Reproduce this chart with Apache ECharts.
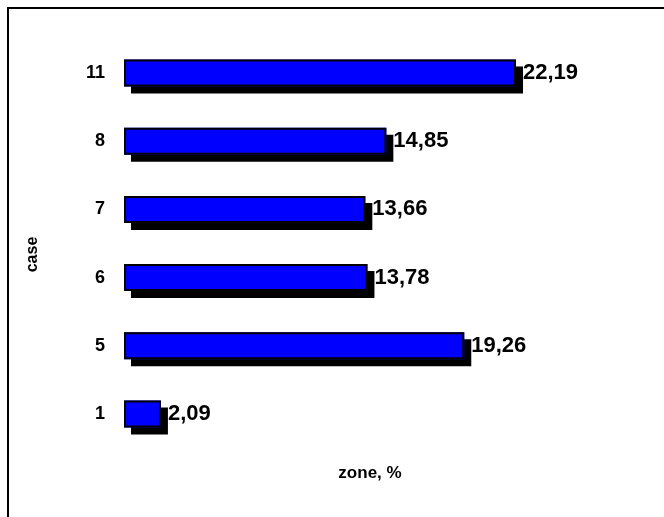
<!DOCTYPE html>
<html>
<head>
<meta charset="utf-8">
<script src="https://cdn.jsdelivr.net/npm/echarts@6/dist/echarts.min.js"></script>
<style>
  html, body { margin: 0; padding: 0; background: #fff; }
  #chart { width: 664px; height: 517px; }
</style>
</head>
<body>
<div id="chart"></div>
<script>
// Cases, bottom to top, and their zone share in percent
const cases = ['1', '5', '6', '7', '8', '11'];
const zoneValues = [2.09, 19.26, 13.78, 13.66, 14.85, 22.19];
const xAxisTitle = 'zone, %';
const yAxisTitle = 'case';

const fmt = v => v.toFixed(2).replace('.', ',');
const font = 'Liberation Sans, Arial, sans-serif';

const chart = echarts.init(document.getElementById('chart'), null, { renderer: 'canvas' });
chart.setOption({
  animation: false,
  backgroundColor: '#fff',
  grid: { left: 124, right: 10, top: 39, bottom: 69, containLabel: false },
  title: {
    text: xAxisTitle,
    left: 365,
    top: 460,
    textAlign: 'center',
    textStyle: { fontFamily: font, fontWeight: 'bold', fontSize: 17, color: '#000' }
  },
  graphic: [{
    type: 'polyline',
    shape: { points: [[8, 530], [8, 8], [680, 8]] },
    style: { stroke: '#000', lineWidth: 2, fill: null },
    silent: true
  }],
  xAxis: {
    type: 'value',
    min: 0,
    max: 30,
    show: false
  },
  yAxis: {
    type: 'category',
    data: cases,
    name: yAxisTitle,
    nameLocation: 'middle',
    nameRotate: 90,
    nameGap: 83,
    nameTextStyle: { fontFamily: font, fontWeight: 'bold', fontSize: 16, color: '#000', padding: [0, 22, 0, 0] },
    axisLine: { show: false },
    axisTick: { show: false },
    splitLine: { show: false },
    axisLabel: { margin: 19, fontFamily: font, fontWeight: 'bold', fontSize: 18, color: '#000' }
  },
  series: [{
    // filled bars casting a hard black drop shadow
    type: 'bar',
    data: zoneValues,
    barWidth: 27,
    itemStyle: {
      color: '#0000ff',
      shadowColor: '#000',
      shadowBlur: 0,
      shadowOffsetX: 7,
      shadowOffsetY: 7
    },
    silent: true
  }, {
    // outlines and value labels drawn over the fills
    type: 'bar',
    data: zoneValues,
    barWidth: 27,
    barGap: '-100%',
    itemStyle: {
      color: 'rgba(0,0,0,0)',
      borderColor: '#000',
      borderWidth: 2
    },
    label: {
      show: true,
      position: 'right',
      distance: 7,
      formatter: p => fmt(p.value),
      fontFamily: font,
      fontWeight: 'bold',
      fontSize: 22,
      color: '#000'
    }
  }]
});
</script>
</body>
</html>
